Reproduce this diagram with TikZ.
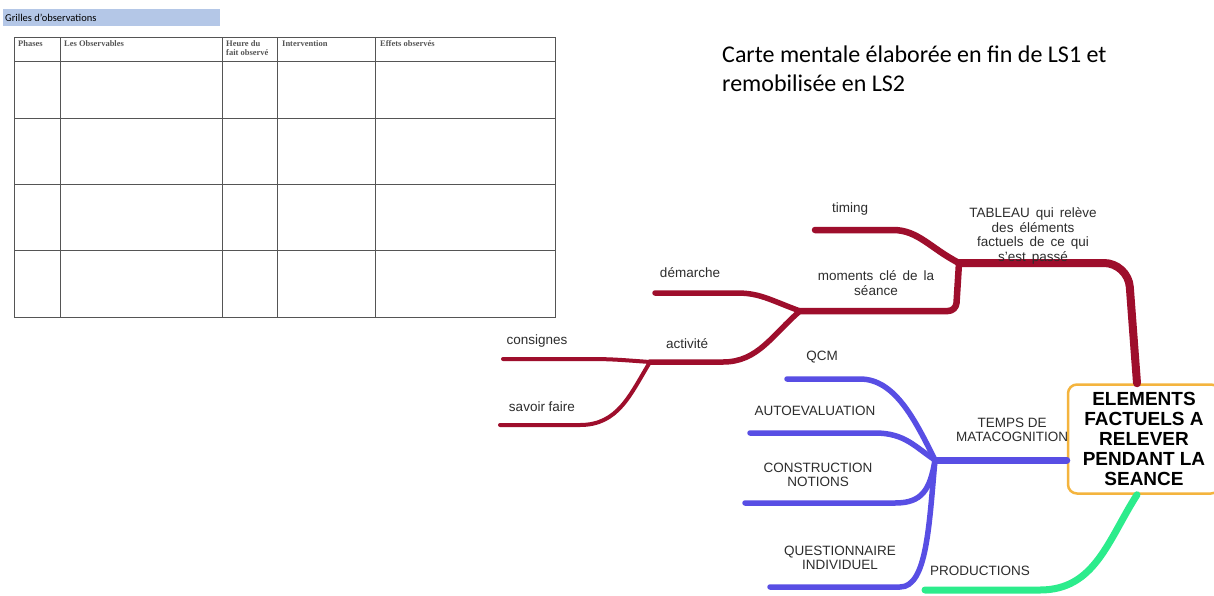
\documentclass[tikz,border=0pt]{standalone}
\usepackage{fontspec}
\setmainfont{Liberation Sans}
\newfontfamily\carlito{Carlito}
\newfontfamily\tabserif{Liberation Serif}
\definecolor{mapred}{RGB}{158,14,44}
\definecolor{mapblue}{RGB}{88,78,228}
\definecolor{mapgreen}{RGB}{44,236,140}
\definecolor{boxorange}{RGB}{244,180,62}
\definecolor{bandblue}{RGB}{180,199,231}
\definecolor{labelgray}{RGB}{45,45,45}
\definecolor{gridgray}{RGB}{85,85,85}
\tikzset{
  br1/.style={draw=mapred, line width=8pt, line cap=round, line join=round},
  br2/.style={draw=mapred, line width=6.5pt, line cap=round, line join=round},
  br3/.style={draw=mapred, line width=5.5pt, line cap=round, line join=round},
  br4/.style={draw=mapred, line width=4pt, line cap=round, line join=round},
  bl1/.style={draw=mapblue, line width=7pt, line cap=round, line join=round},
  bl2/.style={draw=mapblue, line width=5.5pt, line cap=round, line join=round},
  gr1/.style={draw=mapgreen, line width=7pt, line cap=round, line join=round},
  lbl/.style={font=\fontsize{13.5}{14.5}\selectfont, text=labelgray, inner sep=0pt, align=center},
  widesp/.style={execute at begin node={\spaceskip=6pt\relax}},
  centerbox/.style={draw=boxorange, line width=2.5pt, fill=white, rounded corners=9pt,
    minimum width=152pt, minimum height=109pt, align=center,
    font=\bfseries\fontsize{19}{19.8}\selectfont, text=black},
  grid/.style={draw=gridgray, line width=1pt},
  thead/.style={font=\tabserif\bfseries\fontsize{8.5}{9}\selectfont, text=gridgray, anchor=north west, inner sep=0pt, align=left},
  titletext/.style={font=\carlito\fontsize{24}{30}\selectfont, text=black, anchor=base west, inner sep=0pt}
}
\begin{document}
\begin{tikzpicture}[x=1pt,y=-1pt]
\useasboundingbox (0,0) rectangle (1214,595);
\fill[white] (0,0) rectangle (1214,595);

% ---- observation grid ----
\fill[bandblue] (3,9) rectangle (220,26);
\node[font=\carlito\fontsize{10.5}{11}\selectfont, anchor=west, inner sep=0pt] (band) at (5,17.5) {Grilles d’observations};
\draw[grid] (14,37) rectangle (555,317);
\foreach \xx in {60,222,277,375} \draw[grid] (\xx,37) -- (\xx,317);
\foreach \yy in {61.5,118.5,184.5,250.5} \draw[grid] (14,\yy) -- (555,\yy);
\node[thead] (h1) at (18,40) {Phases};
\node[thead] (h2) at (64,40) {Les Observables};
\node[thead] (h3) at (226,40) {Heure du\\fait observé};
\node[thead] (h4) at (282,40) {Intervention};
\node[thead] (h5) at (380,40) {Effets observés};

% ---- title ----
\node[titletext] (t1) at (722,62) {Carte mentale élaborée en fin de LS1 et};
\node[titletext] (t2) at (722,91) {remobilisée en LS2};

% ---- hubs ----
\coordinate (hubR) at (959,263);
\coordinate (hubM) at (800,311);
\coordinate (hubA) at (650,362);
\coordinate (hubB) at (935,460);
\coordinate (endTiming) at (815,230);
\coordinate (endDem) at (655,293);
\coordinate (endCons) at (503,359);
\coordinate (endSav) at (500,425);
\coordinate (endQcm) at (787,379);
\coordinate (endAuto) at (750,433);
\coordinate (endCons2) at (745,503);
\coordinate (endQuest) at (770,587);
\coordinate (endProd) at (925,590);

% ---- centre ----
\node[centerbox] (c) at (1144,439) {ELEMENTS\\FACTUELS A\\RELEVER\\PENDANT LA\\SEANCE};

% ---- red branch ----
\draw[br1, rounded corners=24pt] ([xshift=-7pt]c.north) -- (1128,263) -- (hubR);
\draw[br2] (hubR) .. controls (930,248) and (918,230) .. (893,230) -- (endTiming);
\draw[br2, rounded corners=8pt] (hubR) -- (956,311) -- (hubM);
\draw[br3] (hubM) .. controls (770,300) and (760,293) .. (737,293) -- (endDem);
\draw[br3] (hubM) .. controls (772,335) and (758,362) .. (723,362) -- (hubA);
\draw[br4] (hubA) .. controls (622,360) and (612,359) .. (590,359) -- (endCons);
\draw[br4] (hubA) .. controls (630,395) and (618,425) .. (580,425) -- (endSav);

% ---- blue branch ----
\draw[bl1] (c.west |- hubB) -- (hubB);
\draw[bl2] (hubB) .. controls (915,420) and (895,379) .. (860,379) -- (endQcm);
\draw[bl2] (hubB) .. controls (915,447) and (905,433) .. (875,433) -- (endAuto);
\draw[bl2] (hubB) .. controls (930,490) and (922,503) .. (895,503) -- (endCons2);
\draw[bl2] (hubB) .. controls (929,525) and (927,587) .. (900,587) -- (endQuest);

% ---- green branch ----
\draw[gr1] ([xshift=-7pt]c.south) .. controls (1108,540) and (1095,590) .. (1040,590) -- (endProd);

% ---- labels ----
\node[lbl, widesp] (lTab) at (1033,236) {TABLEAU qui relève\\des éléments\\factuels de ce qui\\s’est passé};
\node[lbl] (lTim) at (850,209) {timing};
\node[lbl, widesp] (lMom) at (876,283) {moments clé de la\\séance};
\node[lbl] (lDem) at (690,273) {démarche};
\node[lbl] (lAct) at (687,344) {activité};
\node[lbl] (lCon) at (537,341) {consignes};
\node[lbl] (lSav) at (542,407) {savoir faire};
\node[lbl] (lQcm) at (822,357) {QCM};
\node[lbl] (lAut) at (815,411) {AUTOEVALUATION};
\node[lbl] (lTmp) at (1012,430) {TEMPS DE\\MATACOGNITION};
\node[lbl] (lCn) at (818,475) {CONSTRUCTION\\NOTIONS};
\node[lbl] (lQ) at (840,558) {QUESTIONNAIRE\\INDIVIDUEL};
\node[lbl] (lPr) at (980,571) {PRODUCTIONS};
\end{tikzpicture}
\end{document}
